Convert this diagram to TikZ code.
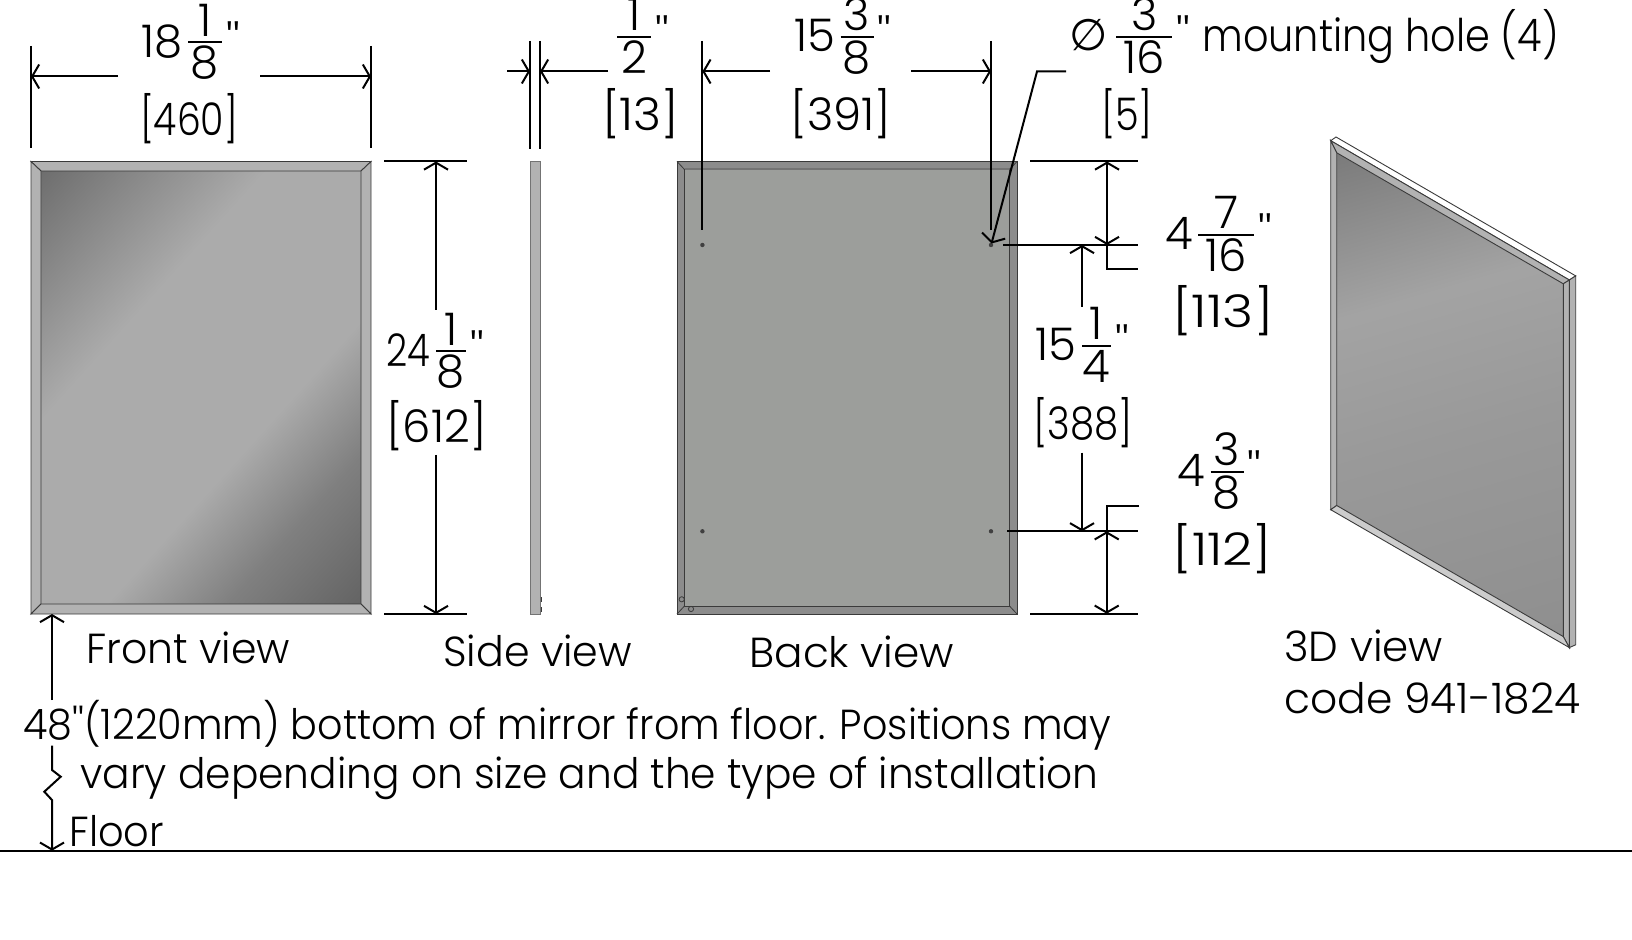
\documentclass[tikz,border=0pt]{standalone}
\usepackage{fontspec}
\usetikzlibrary{arrows.meta}
\newfontfamily\dimfont{Poppins Light}
\newfontfamily\symfont{DejaVu Sans}
\definecolor{frameface}{HTML}{B2B2B2}
\definecolor{backface}{HTML}{9C9E9B}
\definecolor{backframe}{HTML}{8C8C8C}
\definecolor{edgeline}{HTML}{3A3A3A}
\pgfdeclarehorizontalshading{frontglass}{100bp}{color(0bp)=(black!57);color(14.7bp)=(black!57);color(37bp)=(black!33);color(60bp)=(black!33);color(72bp)=(black!50);color(85.3bp)=(black!61);color(100bp)=(black!61)}
\pgfdeclarehorizontalshading{isoglass}{100bp}{color(0bp)=(black!52);color(19bp)=(black!52);color(38bp)=(black!36);color(55bp)=(black!40);color(81bp)=(black!44);color(100bp)=(black!44)}
\tikzstyle{dimnum} = [font=\dimfont\fontsize{22.5}{27}\selectfont, inner sep=0pt]
\tikzstyle{caption} = [font=\dimfont\fontsize{21}{25}\selectfont, inner sep=0pt, anchor=base west]
\tikzstyle{dimline} = [line width=1pt, black]
\tikzstyle{arrow} = [line width=1pt, black, ->, >={Straight Barb[length=3.5pt,width=12pt]}]
\tikzstyle{facet} = [fill=frameface, draw=edgeline, line width=0.45pt]
\newcommand{\dimfrac}[7]{
  \node (#1whole) [dimnum, anchor=base east] at ({#2-#7/2-5},{#3+15}) {#4};
  \node (#1num) [dimnum, anchor=base] at (#2,{#3-6}) {#5};
  \node (#1den) [dimnum, anchor=base] at (#2,{#3+36.5}) {#6};
  \node (#1mark) [dimnum, anchor=base west] at ({#2+#7/2+4},{#3+15}) {''};
  \draw [dimline] ({#2-#7/2},#3) -- ({#2+#7/2},#3);
}
\begin{document}
\begin{tikzpicture}[x=0.5pt, y=-0.5pt]
  \useasboundingbox (0,0) rectangle (1632,940);

  \shade [shading=frontglass, shading angle=-42] (41,171) rectangle (361,604);
  \draw [facet] (31,161.5) -- (371,161.5) -- (361,171) -- (41,171) -- cycle;
  \draw [facet] (31,161.5) -- (41,171) -- (41,604) -- (31,614) -- cycle;
  \draw [facet] (371,161.5) -- (361,171) -- (361,604) -- (371,614) -- cycle;
  \draw [facet] (31,614) -- (41,604) -- (361,604) -- (371,614) -- cycle;

  \draw [facet, draw=black!55] (530,161.5) rectangle (540,614);
  \draw [edgeline, line width=0.5pt] (541,597) -- (541,602) (541,607) -- (541,612);

  \draw [fill=backface, draw=edgeline, line width=0.4pt] (677,161.5) rectangle (1017,614);
  \fill [backframe] (677,161.5) rectangle (684.5,614) (1009.5,161.5) rectangle (1017,614) (677,161.5) rectangle (1017,169.5) (677,606) rectangle (1017,614);
  \draw [edgeline, line width=0.45pt] (677,161.5) rectangle (1017,614);
  \draw [edgeline, line width=0.45pt] (684.5,169.5) rectangle (1009.5,606);
  \draw [black!55, line width=1.2pt] (684.5,169) -- (1009.5,169);
  \draw [edgeline, line width=0.4pt] (677,161.5) -- (684.5,169.5) (1017,161.5) -- (1009.5,169.5) (677,614) -- (684.5,606) (1017,614) -- (1009.5,606);
  \foreach \hx in {702.4,991} \foreach \hy in {245,531.3}
    \fill [black!75] (\hx,\hy) circle (1.1pt);
  \draw [edgeline, line width=0.4pt] (681.7,599.3) circle (1.3pt) (691,609) circle (1.3pt);

  \draw [dimline] (31,46) -- (31,148);
  \draw [dimline] (371,46) -- (371,148);
  \draw [arrow] (118,76.5) -- (31,76.5);
  \draw [arrow] (260,76.5) -- (371,76.5);
  \dimfrac{wide}{205}{42.5}{18}{1}{8}{34}
  \node (widemm) [dimnum] at (189,119) {\scalebox{.84}[1]{[460]}};

  \draw [dimline] (530,41) -- (530,149);
  \draw [dimline] (540,41) -- (540,149);
  \draw [arrow] (507,71.5) -- (530,71.5);
  \draw [arrow] (608,71.5) -- (540,71.5);
  \dimfrac{thick}{634}{37}{}{1}{2}{34}
  \node (thickmm) [dimnum] at (640.5,114) {\scalebox{1.06}[1]{[13]}};

  \draw [dimline] (702.4,41) -- (702.4,230);
  \draw [dimline] (991,41) -- (991,230);
  \draw [arrow] (770,71.5) -- (702.4,71.5);
  \draw [arrow] (911,71.5) -- (991,71.5);
  \dimfrac{holes}{857}{37}{15}{3}{8}{33}
  \node (holesmm) [dimnum] at (841,114) {[391]};

  \draw [arrow] (1066,71.5) -- (1037,71.5) -- (991.5,243.5);
  \node (dia) [dimnum] at (1089,35) {\symfont\fontsize{22}{26}\selectfont ∅};
  \dimfrac{bore}{1144.3}{37}{}{3}{16}{56}
  \node (mount) [dimnum, anchor=base west] at (1202,52) {\scalebox{.885}[1]{mounting hole (4)}};
  \node (boremm) [dimnum] at (1127,114) {\scalebox{.85}[1]{[5]}};

  \draw [dimline] (384,161.5) -- (467,161.5);
  \draw [dimline] (384,614) -- (467,614);
  \draw [arrow] (436,310) -- (436,161.5);
  \draw [arrow] (436,455) -- (436,614);
  \dimfrac{tall}{451}{351.5}{\scalebox{.82}[1]{24}}{1}{8}{30}
  \node (tallmm) [dimnum] at (436.5,426) {[612]};

  \draw [dimline] (1030,161.5) -- (1138,161.5);
  \draw [dimline] (1003,245) -- (1138,245);
  \draw [dimline] (1107,245) -- (1107,269) -- (1138,269);
  \draw [arrow, <->] (1107,161.5) -- (1107,245);
  \dimfrac{upper}{1226}{235}{4}{7}{16}{56}
  \node (uppermm) [dimnum] at (1223,311) {\scalebox{1.18}[1]{[113]}};

  \draw [arrow] (1082,307) -- (1082,245);
  \draw [arrow] (1082,452.7) -- (1082,531.3);
  \dimfrac{span}{1096.5}{346}{15}{1}{4}{29}
  \node (spanmm) [dimnum] at (1083,423) {\scalebox{.86}[1]{[388]}};

  \draw [dimline] (1007.3,531.3) -- (1138,531.3);
  \draw [dimline] (1030,613.7) -- (1138,613.7);
  \draw [dimline] (1139,506) -- (1106.7,506) -- (1106.7,531.3);
  \draw [arrow, <->] (1106.7,531.3) -- (1106.7,613.7);
  \dimfrac{lower}{1227}{471.7}{4}{3}{8}{33}
  \node (lowermm) [dimnum] at (1222.5,548.5) {\scalebox{1.17}[1]{[112]}};

  \shade [shading=isoglass, shading angle=-74] (1336.7,152.8) -- (1563.3,283.8) -- (1563.3,636.6) -- (1336.7,505.5) -- cycle;
  \draw [fill=white, draw=edgeline, line width=0.45pt] (1330.7,140.7) -- (1336,137) -- (1575.7,275.9) -- (1569.3,280) -- cycle;
  \draw [facet] (1569.3,280) -- (1575.7,275.9) -- (1575.7,644.8) -- (1569.3,647.6) -- cycle;
  \draw [facet] (1330.7,140.7) -- (1569.3,280) -- (1563.3,283.8) -- (1336.7,152.8) -- cycle;
  \draw [facet] (1330.7,140.7) -- (1336.7,152.8) -- (1336.7,505.5) -- (1330.7,509.7) -- cycle;
  \draw [facet] (1569.3,280) -- (1563.3,283.8) -- (1563.3,636.6) -- (1569.3,647.6) -- cycle;
  \draw [facet, fill=black!20] (1330.7,509.7) -- (1336.7,505.5) -- (1563.3,636.6) -- (1569.3,647.6) -- cycle;

  \node (front) [caption] at (86,663) {\scalebox{.975}[1]{Front view}};
  \node (side) [caption] at (443,666) {\scalebox{.98}[1]{Side view}};
  \node (back) [caption] at (749,667) {\scalebox{1.005}[1]{Back view}};
  \node (iso) [caption] at (1284,661) {3D view};
  \node (code) [caption] at (1284,713) {\scalebox{1.01}[1]{code 941-1824}};
  \node (note) [caption] at (23,739) {\scalebox{.945}[1]{48''(1220mm) bottom of mirror from floor. Positions may}};
  \node (noteb) [caption] at (80,788) {\scalebox{.97}[1]{vary depending on size and the type of installation}};
  \node (floor) [caption] at (69,846) {\scalebox{.95}[1]{Floor}};

  \coordinate (zigtop) at (52,745.7);
  \coordinate (zigend) at (52,850.7);
  \coordinate (floorl) at (0,850.7);
  \coordinate (floorr) at (1632,850.7);
  \draw [arrow] (52,700) -- (52,614);
  \draw [arrow] (zigtop) -- (52,770) -- (60.7,776.7) -- (44.3,791.7) -- (52,800) -- (zigend);
  \draw [dimline] (floorl) -- (floorr);
\end{tikzpicture}
\end{document}
